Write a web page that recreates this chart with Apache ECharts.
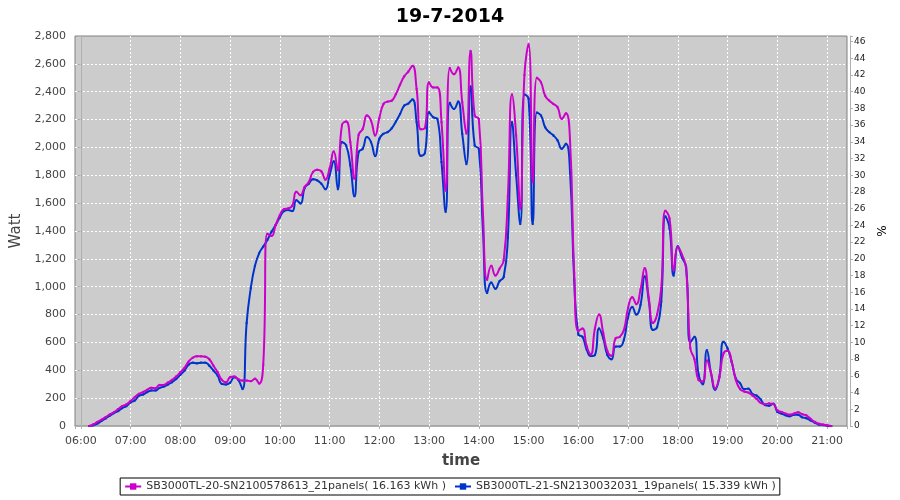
<!DOCTYPE html>
<html>
<head>
<meta charset="utf-8">
<title>19-7-2014</title>
<script src="https://cdn.jsdelivr.net/npm/echarts/dist/echarts.min.js"></script>
<style>
  html, body { margin: 0; padding: 0; background: #fff; }
  #chart { width: 900px; height: 500px; }
</style>
</head>
<body>
<div id="chart"></div>
<script>
// sample times (5 min)
const times = [
  '06:10','06:15','06:20','06:25','06:30','06:35','06:40','06:45','06:50','06:55',
  '07:00','07:05','07:10','07:15','07:20','07:25','07:30','07:35','07:40','07:45','07:50','07:55',
  '08:00','08:05','08:10','08:15','08:20','08:25','08:30','08:35','08:40','08:45','08:50','08:55',
  '09:00','09:05','09:10','09:15','09:20','09:25','09:30','09:35','09:40','09:45','09:50','09:55',
  '10:00','10:05','10:10','10:15','10:20','10:25','10:30','10:35','10:40','10:45','10:50','10:55',
  '11:00','11:05','11:10','11:15','11:20','11:25','11:30','11:35','11:40','11:45','11:50','11:55',
  '12:00','12:05','12:10','12:15','12:20','12:25','12:30','12:35','12:40','12:45','12:50','12:55',
  '13:00','13:05','13:10','13:15','13:20','13:25','13:30','13:35','13:40','13:45','13:50','13:55',
  '14:00','14:05','14:10','14:15','14:20','14:25','14:30','14:35','14:40','14:45','14:50','14:55',
  '15:00','15:05','15:10','15:15','15:20','15:25','15:30','15:35','15:40','15:45','15:50','15:55',
  '16:00','16:05','16:10','16:15','16:20','16:25','16:30','16:35','16:40','16:45','16:50','16:55',
  '17:00','17:05','17:10','17:15','17:20','17:25','17:30','17:35','17:40','17:45','17:50','17:55',
  '18:00','18:05','18:10','18:15','18:20','18:25','18:30','18:35','18:40','18:45','18:50','18:55',
  '19:00','19:05','19:10','19:15','19:20','19:25','19:30','19:35','19:40','19:45','19:50','19:55',
  '20:00','20:05','20:10','20:15','20:20','20:25','20:30','20:35','20:40','20:45','20:50','20:55',
  '21:00','21:05'
];

// SB3000TL-20 (Watt)
const sb20Watt = [
  0, 12, 29, 45, 64, 83, 100, 121, 143, 155,
  179, 207, 231, 243, 260, 274, 271, 295, 295, 312, 331, 355,
  386, 417, 462, 490, 500, 500, 498, 479, 433, 386, 331, 314,
  350, 355, 336, 326, 326, 322, 340, 305, 440, 1380, 1365, 1443,
  1514, 1557, 1562, 1581, 1681, 1657, 1717, 1752, 1824, 1840, 1829, 1769,
  1848, 1971, 1836, 2162, 2186, 2038, 1776, 2090, 2133, 2229, 2193, 2086,
  2210, 2312, 2329, 2336, 2383, 2450, 2510, 2545, 2586, 2419, 2130, 2140,
  2467, 2431, 2431, 2181, 1690, 2570, 2526, 2574, 2324, 2100, 2693, 2229,
  2205, 1520, 1050, 1150, 1080, 1130, 1190, 1650, 2380, 2086, 1560, 2520,
  2740, 1750, 2500, 2467, 2371, 2336, 2312, 2288, 2205, 2245, 2050, 1100,
  681, 700, 574, 514, 700, 800, 669, 538, 505, 630, 640, 690,
  848, 925, 875, 980, 1133, 920, 740, 800, 990, 1545, 1490, 1120,
  1285, 1230, 1130, 560, 480, 330, 320, 470, 380, 270, 350, 520,
  540, 460, 330, 265, 248, 240, 220, 195, 165, 156, 162, 158,
  113, 101, 89, 81, 89, 98, 84, 76, 52, 30, 16, 10,
  5, 0
];

// SB3000TL-21 (Watt)
const sb21Watt = [
  0, 5, 17, 36, 55, 74, 93, 107, 129, 143,
  169, 183, 217, 226, 243, 255, 255, 274, 283, 298, 314, 338,
  367, 398, 440, 455, 450, 455, 455, 433, 398, 362, 302, 298,
  310, 350, 330, 265, 740, 990, 1150, 1240, 1288, 1336, 1395, 1443,
  1498, 1543, 1550, 1543, 1621, 1598, 1710, 1740, 1771, 1764, 1740, 1700,
  1800, 1900, 1700, 2038, 2014, 1871, 1650, 1967, 1990, 2074, 2038, 1938,
  2062, 2098, 2110, 2138, 2186, 2240, 2300, 2315, 2345, 2181, 1940, 1960,
  2252, 2217, 2205, 1895, 1538, 2320, 2276, 2329, 2098, 1880, 2438, 2014,
  1990, 1400, 955, 1030, 985, 1040, 1070, 1350, 2181, 1800, 1450, 2380,
  2350, 1450, 2250, 2229, 2145, 2110, 2086, 2050, 1990, 2026, 1820, 1050,
  657, 640, 550, 502, 510, 700, 630, 510, 479, 570, 570, 620,
  780, 855, 800, 870, 1074, 900, 690, 710, 895, 1505, 1420, 1080,
  1290, 1210, 1140, 600, 640, 370, 300, 544, 380, 261, 350, 604,
  556, 460, 340, 308, 265, 268, 230, 218, 190, 150, 145, 160,
  101, 89, 77, 70, 81, 80, 62, 56, 40, 25, 10, 7,
  2, 0
];

const seriesNames = [
  'SB3000TL-20-SN2100578613_21panels( 16.163 kWh )',
  'SB3000TL-21-SN2130032031_19panels( 15.339 kWh )'
];
const seriesColors = ['#cc00cc', '#0033cc'];

// hours counted from 06:00
const toHours = (t) => {
  const [h, m] = t.split(':').map(Number);
  return h - 6 + m / 60;
};

const pad = (n) => (n < 10 ? '0' + n : '' + n);
const labelFont = 'DejaVu Sans';

const gridLine = {
  show: true,
  showMinLine: false,
  showMaxLine: false,
  lineStyle: { color: '#ffffff', type: [2, 2], width: 1 }
};

const chart = echarts.init(document.getElementById('chart'));

const makeSeries = (name, values, color, z) => ({
  name: name,
  type: 'line',
  data: times.map((t, i) => [toHours(t), values[i]]),
  yAxisIndex: 0,
  smooth: 0.5,
  symbol: 'rect',
  symbolSize: 2,
  showSymbol: true,
  z: z,
  lineStyle: { color: color, width: 2 },
  itemStyle: { color: color },
  emphasis: { disabled: true }
});

const option = {
  animation: false,
  backgroundColor: '#fff',
  title: {
    text: '19-7-2014',
    left: 'center',
    top: 3,
    textStyle: { fontFamily: labelFont, fontSize: 19, fontWeight: 'bold', color: '#000' }
  },
  legend: {
    data: seriesNames,
    left: 'center',
    top: 478,
    padding: [3, 4],
    itemGap: 8,
    itemWidth: 16,
    itemHeight: 8,
    borderColor: '#000',
    borderWidth: 1,
    textStyle: { fontFamily: labelFont, fontSize: 11, color: '#333' }
  },
  grid: {
    left: 75,
    right: 53,
    top: 36,
    bottom: 74,
    show: true,
    backgroundColor: '#cccccc',
    borderColor: '#808080',
    borderWidth: 1
  },
  xAxis: {
    type: 'value',
    min: -7 / 60,
    max: 15.4,
    splitNumber: 15,
    minInterval: 1,
    maxInterval: 1,
    offset: 4,
    name: 'time',
    nameLocation: 'middle',
    nameGap: 24,
    nameTextStyle: { fontFamily: labelFont, fontSize: 15, fontWeight: 'bold', color: '#444' },
    axisLine: { show: true, lineStyle: { color: '#b0b0b0' } },
    axisTick: { show: true, length: 3, lineStyle: { color: '#b0b0b0' } },
    axisLabel: {
      fontFamily: labelFont,
      fontSize: 11,
      color: '#444',
      margin: 6,
      formatter: (v) => {
        if (Math.abs(v - Math.round(v)) > 1e-6) return '';
        return pad(6 + Math.round(v)) + ':00';
      }
    },
    splitLine: gridLine
  },
  yAxis: [
    {
      type: 'value',
      min: 0,
      max: 2800,
      interval: 200,
      offset: 4,
      name: 'Watt',
      nameLocation: 'middle',
      nameGap: 36,
      nameTextStyle: { fontFamily: labelFont, fontSize: 15, color: '#444' },
      axisLine: { show: true, lineStyle: { color: '#b0b0b0' } },
      axisTick: { show: true, length: 3, lineStyle: { color: '#b0b0b0' } },
      axisLabel: {
        fontFamily: labelFont,
        fontSize: 11,
        color: '#444',
        margin: 5,
        formatter: (v) => v.toLocaleString('en-US')
      },
      splitLine: gridLine
    },
    {
      type: 'value',
      position: 'right',
      min: 0,
      max: 2800 / 60,
      interval: 2,
      offset: 3,
      name: '%',
      nameLocation: 'middle',
      nameGap: 27,
      nameTextStyle: { fontFamily: labelFont, fontSize: 12, color: '#000' },
      axisLine: { show: true, lineStyle: { color: '#b0b0b0' } },
      axisTick: { show: true, length: 3, lineStyle: { color: '#b0b0b0' } },
      axisLabel: {
        fontFamily: labelFont,
        fontSize: 9,
        color: '#222',
        margin: 4,
        formatter: (v) => (Math.abs(v - Math.round(v)) > 1e-6 ? '' : String(Math.round(v)))
      },
      splitLine: { show: false }
    }
  ],
  series: [
    makeSeries(seriesNames[0], sb20Watt, seriesColors[0], 3),
    makeSeries(seriesNames[1], sb21Watt, seriesColors[1], 2)
  ]
};

chart.setOption(option);
</script>
</body>
</html>
